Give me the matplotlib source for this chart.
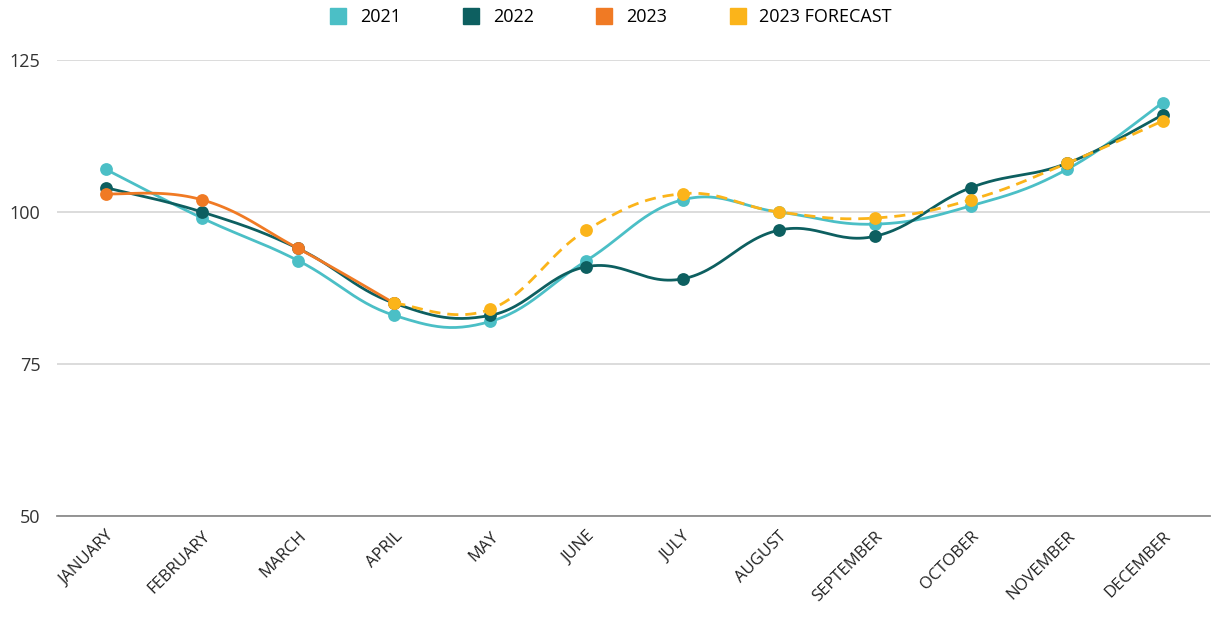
import numpy as np
import matplotlib.pyplot as plt
from matplotlib.lines import Line2D

months = ["JANUARY", "FEBRUARY", "MARCH", "APRIL", "MAY", "JUNE", "JULY",
          "AUGUST", "SEPTEMBER", "OCTOBER", "NOVEMBER", "DECEMBER"]
y2021 = [107, 99, 92, 83, 82, 92, 102, 100, 98, 101, 107, 118]
y2022 = [104, 100, 94, 85, 83, 91, 89, 97, 96, 104, 108, 116]
y2023 = [103, 102, 94, 85]
forecast = [None, None, None, 85, 84, 97, 103, 100, 99, 102, 108, 115]
yticks = [50, 75, 100, 125]

c2021 = "#4bbfc6"
c2022 = "#0d5f60"
c2023 = "#f07a24"
cfc = "#fbb41a"

plt.rcParams['font.family'] = ['Open Sans', 'DejaVu Sans']


def smooth(xs, ys, n=30, t=0.4):
    # cardinal spline through the points (like chart.js tension)
    xs = np.asarray(xs, float)
    ys = np.asarray(ys, float)
    px, py = [], []
    for i in range(len(xs) - 1):
        x0, y0 = (xs[i - 1], ys[i - 1]) if i > 0 else (xs[i], ys[i])
        x3, y3 = (xs[i + 2], ys[i + 2]) if i + 2 < len(xs) else (xs[i + 1], ys[i + 1])
        x1, y1, x2, y2 = xs[i], ys[i], xs[i + 1], ys[i + 1]
        c1x = x1 + (x2 - x0) * t / 2
        c1y = y1 + (y2 - y0) * t / 2
        c2x = x2 - (x3 - x1) * t / 2
        c2y = y2 - (y3 - y1) * t / 2
        s = np.linspace(0, 1, n)
        bx = (1-s)**3*x1 + 3*(1-s)**2*s*c1x + 3*(1-s)*s**2*c2x + s**3*x2
        by = (1-s)**3*y1 + 3*(1-s)**2*s*c1y + 3*(1-s)*s**2*c2y + s**3*y2
        px.extend(bx)
        py.extend(by)
    return px, py


fig = plt.figure(figsize=(12.21, 6.18), dpi=100)
ax = fig.add_axes([57/1221, 1-516/618, (1210-57)/1221, (516-60)/618])

x = np.arange(len(months))

def draw(vals, color, ls="-", z=2):
    xs = [i for i, v in enumerate(vals) if v is not None]
    ys = [v for v in vals if v is not None]
    sx, sy = smooth(xs, ys)
    ax.plot(sx, sy, color=color, lw=2, ls=ls, zorder=z, clip_on=False,
            dashes=(4, 2.5) if ls == "--" else (None, None))
    ax.scatter(xs, ys, s=85, color=color, zorder=z + 0.5, clip_on=False, linewidths=0)

draw(y2021, c2021, z=2)
draw(y2022, c2022, z=3)
draw(y2023, c2023, z=4)
draw(forecast, cfc, ls="--", z=5)

ax.set_xlim(-0.51, 11.49)
ax.set_ylim(50, 125)
ax.set_yticks(yticks)
ax.set_xticks(x)
ax.set_xticklabels(months, rotation=45, ha="right", rotation_mode="anchor",
                   fontsize=12, color="#222222")
ax.tick_params(axis="y", length=0, pad=12, labelsize=13, labelcolor="#333333")
ax.tick_params(axis="x", length=0, pad=9)
ax.grid(axis="y", color="#d9d9d9", lw=1.3, zorder=0)
for sp in ["top", "right", "left"]:
    ax.spines[sp].set_visible(False)
ax.spines["bottom"].set_color("#8c8c8c")
ax.spines["bottom"].set_linewidth(1.3)
ax.set_axisbelow(True)

handles = [Line2D([], [], ls="", marker="s", markersize=11, color=c) for c in [c2021, c2022, c2023, cfc]]
fig.legend(handles, ["2021", "2022", "2023", "2023 FORECAST"], loc="center",
           bbox_to_anchor=(0.5, 1-17/618), ncol=4, frameon=False, fontsize=13,
           handletextpad=0.7, columnspacing=3.4, handlelength=1.0)

fig.savefig("out.png", dpi=100)
